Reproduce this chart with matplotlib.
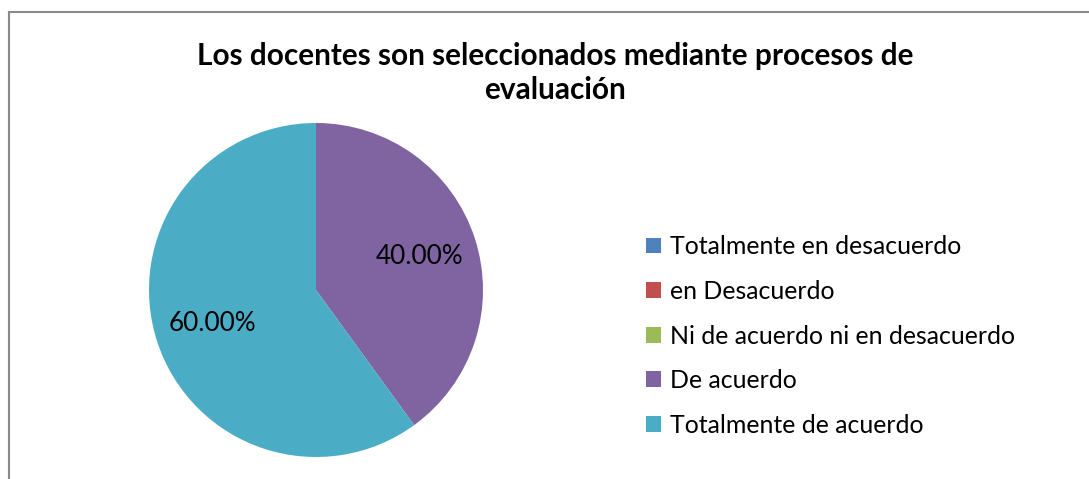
import matplotlib.pyplot as plt
from matplotlib.lines import Line2D

# datos del gráfico
categorias = ["Totalmente en desacuerdo", "en Desacuerdo",
              "Ni de acuerdo ni en desacuerdo", "De acuerdo",
              "Totalmente de acuerdo"]
valores = [0.0, 0.0, 0.0, 40.0, 60.0]
colores = ["#4F81BD", "#C0504D", "#9BBB59", "#8064A2", "#4BACC6"]
titulo = "Los docentes son seleccionados mediante procesos de\nevaluación"

plt.rcParams['font.family'] = ['Lato', 'DejaVu Sans']

W, H = 1089, 479
fig = plt.figure(figsize=(W / 100, H / 100), dpi=100)

# marco (solo borde superior e izquierdo visibles)
fig.add_artist(Line2D([8.5 / W, 1], [1 - 11.5 / H, 1 - 11.5 / H],
                      transform=fig.transFigure, color="#898989", lw=1.5))
fig.add_artist(Line2D([8.5 / W, 8.5 / W], [0, 1 - 11.5 / H],
                      transform=fig.transFigure, color="#898989", lw=1.5))

cx, cy, r = 316, 290, 167
ax = fig.add_axes([(cx - r) / W, (H - cy - r) / H, 2 * r / W, 2 * r / H])


def etiqueta(p):
    return f"{p:.2f}%" if p > 0.001 else ""


wedges, textos, autotextos = ax.pie(valores, colors=colores, startangle=90,
                                    counterclock=False, autopct=etiqueta,
                                    pctdistance=0.65, radius=1,
                                    textprops={'fontsize': 18.8, 'color': 'black'})
ax.set_xlim(-1, 1)
ax.set_ylim(-1, 1)
ax.set_aspect('equal')
ax.axis('off')

fig.text(555 / W, 1 - 73 / H, titulo, ha='center', va='center',
         fontsize=21.4, fontweight='bold', linespacing=1.25)

fig.legend(wedges, categorias, loc='center left',
           bbox_to_anchor=(636 / W, 1 - 336 / H), frameon=False,
           fontsize=17.9, handlelength=0.6, handleheight=0.6,
           handletextpad=0.35, labelspacing=0.87, borderaxespad=0)

fig.savefig("out.png", dpi=100)
